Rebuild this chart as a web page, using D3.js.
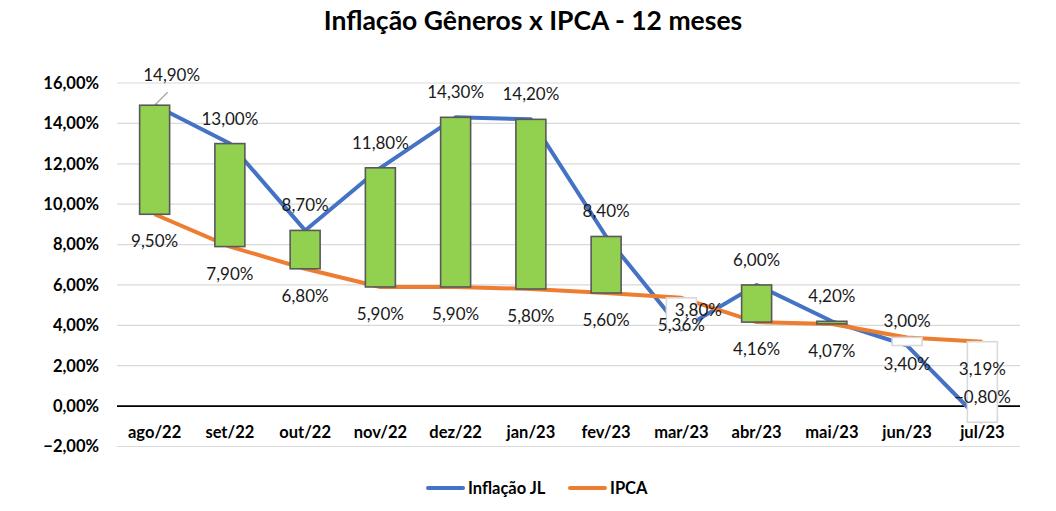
<!DOCTYPE html>
<html>
<head>
<meta charset="utf-8">
<script src="https://cdn.jsdelivr.net/npm/d3@7"></script>
<style>
  body { margin: 0; background: #fff; }
  text { font-family: Lato, "Noto Sans", sans-serif; fill: #000; }
</style>
</head>
<body>
<svg id="chart"></svg>
<script>
// Inflação Gêneros x IPCA - 12 meses

const months = ['ago/22', 'set/22', 'out/22', 'nov/22', 'dez/22', 'jan/23',
  'fev/23', 'mar/23', 'abr/23', 'mai/23', 'jun/23', 'jul/23'];
const inflacaoJL = [14.90, 13.00, 8.70, 11.80, 14.30, 14.20, 8.40, 3.80, 6.00, 4.20, 3.00, -0.80];
const ipca = [9.50, 7.90, 6.80, 5.90, 5.90, 5.80, 5.60, 5.36, 4.16, 4.07, 3.40, 3.19];
const yTicks = [-2, 0, 2, 4, 6, 8, 10, 12, 14, 16];

const width = 1056;
const height = 511;
const margin = { top: 83, right: 36, bottom: 64.5, left: 117 };

const svg = d3.select('#chart')
  .attr('width', width)
  .attr('height', height);

const fmt = v => d3.format('.2f')(v).replace('.', ',') + '%';

const x = d3.scaleBand()
  .domain(months)
  .range([margin.left, width - margin.right]);

const y = d3.scaleLinear()
  .domain([-2, 16])
  .range([height - margin.bottom, margin.top]);

const cx = m => x(m) + x.bandwidth() / 2;

// title
svg.append('text')
  .attr('x', 533)
  .attr('y', 30)
  .attr('text-anchor', 'middle')
  .style('font-size', '26.5px')
  .style('font-weight', 'bold')
  .text('Inflação Gêneros x IPCA - 12 meses');

// gridlines
svg.append('g')
  .selectAll('line')
  .data(yTicks.filter(d => d !== 0))
  .enter().append('line')
    .attr('x1', margin.left)
    .attr('x2', width - margin.right)
    .attr('y1', d => y(d))
    .attr('y2', d => y(d))
    .attr('stroke', '#d9d9d9')
    .attr('stroke-width', 1.2);

// y axis labels
const yAxis = svg.append('g')
  .attr('transform', 'translate(' + margin.left + ',0)')
  .call(d3.axisLeft(y).tickValues(yTicks).tickFormat(fmt).tickSize(0).tickPadding(18));
yAxis.select('.domain').remove();
yAxis.selectAll('text')
  .style('font-size', '16.5px')
  .style('font-weight', 'bold')
  .style('font-family', 'Lato, "Noto Sans", sans-serif');

// zero line
svg.append('line')
  .attr('x1', margin.left)
  .attr('x2', width - margin.right)
  .attr('y1', y(0))
  .attr('y2', y(0))
  .attr('stroke', '#000')
  .attr('stroke-width', 1.6);

// category labels
svg.append('g')
  .selectAll('text')
  .data(months)
  .enter().append('text')
    .attr('x', d => cx(d))
    .attr('y', y(0) + 31.5)
    .attr('text-anchor', 'middle')
    .style('font-size', '16.5px')
    .style('font-weight', 'bold')
    .text(d => d);

// lines
const line = d3.line()
  .x((d, i) => cx(months[i]))
  .y(d => y(d));

svg.append('path')
  .datum(inflacaoJL)
  .attr('d', line)
  .attr('fill', 'none')
  .attr('stroke', '#4472c4')
  .attr('stroke-width', 4)
  .attr('stroke-linejoin', 'round');

svg.append('path')
  .datum(ipca)
  .attr('d', line)
  .attr('fill', 'none')
  .attr('stroke', '#ed7d31')
  .attr('stroke-width', 4)
  .attr('stroke-linejoin', 'round');

// up / down bars
const barW = 30;
svg.append('g')
  .selectAll('rect')
  .data(months)
  .enter().append('rect')
    .attr('x', d => cx(d) - barW / 2)
    .attr('width', barW)
    .attr('y', (d, i) => y(Math.max(inflacaoJL[i], ipca[i])))
    .attr('height', (d, i) => Math.max(1, Math.abs(y(inflacaoJL[i]) - y(ipca[i]))))
    .attr('fill', (d, i) => inflacaoJL[i] >= ipca[i] ? '#92d050' : '#fff')
    .attr('stroke', (d, i) => inflacaoJL[i] >= ipca[i] ? '#595959' : '#d9d9d9')
    .attr('stroke-width', 1.6);

// data labels
const nudge = { 0: [17, -5], 7: [17, 6] };

svg.append('line')
  .attr('x1', cx(months[0]) + 1)
  .attr('y1', y(inflacaoJL[0]) - 1)
  .attr('x2', cx(months[0]) + 13)
  .attr('y2', y(inflacaoJL[0]) - 13)
  .attr('stroke', '#a6a6a6')
  .attr('stroke-width', 1.2);

svg.append('g')
  .selectAll('text')
  .data(inflacaoJL)
  .enter().append('text')
    .attr('x', (d, i) => cx(months[i]) + (nudge[i] ? nudge[i][0] : 0))
    .attr('y', (d, i) => y(d) - 25 + 6 + (nudge[i] ? nudge[i][1] : 0))
    .attr('text-anchor', 'middle')
    .style('font-size', '17px')
    .style('fill', '#1a1a1a')
    .text(d => fmt(d));

svg.append('g')
  .selectAll('text')
  .data(ipca)
  .enter().append('text')
    .attr('x', (d, i) => cx(months[i]))
    .attr('y', d => y(d) + 27 + 6)
    .attr('text-anchor', 'middle')
    .style('font-size', '17px')
    .style('fill', '#1a1a1a')
    .text(d => fmt(d));

// legend
const legend = [['Inflação JL', '#4472c4', 428], ['IPCA', '#ed7d31', 570]];
const lg = svg.append('g')
  .selectAll('g')
  .data(legend)
  .enter().append('g')
    .attr('transform', d => 'translate(' + d[2] + ',488)');

lg.append('line')
  .attr('x1', 0)
  .attr('x2', 35)
  .attr('stroke', d => d[1])
  .attr('stroke-width', 4)
  .attr('stroke-linecap', 'round');

lg.append('text')
  .attr('x', 40)
  .attr('y', 6)
  .style('font-size', '16.5px')
  .style('font-weight', 'bold')
  .text(d => d[0]);
</script>
</body>
</html>
